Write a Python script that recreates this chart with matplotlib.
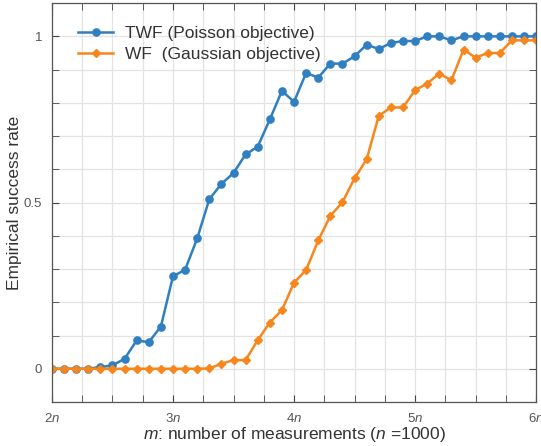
import numpy as np
import matplotlib
matplotlib.use('Agg')
import matplotlib.pyplot as plt
from matplotlib.ticker import MultipleLocator, FixedLocator

plt.rcParams['font.family'] = ['Liberation Sans', 'DejaVu Sans']
plt.rcParams['mathtext.fontset'] = 'custom'
plt.rcParams['mathtext.rm'] = 'Liberation Sans'
plt.rcParams['mathtext.it'] = 'Liberation Sans:italic'

# m / n, sampled every 0.1n from 2n to 6n
m_over_n = [2.0, 2.1, 2.2, 2.3, 2.4, 2.5, 2.6, 2.7, 2.8, 2.9,
            3.0, 3.1, 3.2, 3.3, 3.4, 3.5, 3.6, 3.7, 3.8, 3.9,
            4.0, 4.1, 4.2, 4.3, 4.4, 4.5, 4.6, 4.7, 4.8, 4.9,
            5.0, 5.1, 5.2, 5.3, 5.4, 5.5, 5.6, 5.7, 5.8, 5.9, 6.0]

twf_rate = [0, 0, 0, 0, 0.005, 0.01, 0.03, 0.085, 0.08, 0.127,
            0.278, 0.298, 0.392, 0.51, 0.556, 0.589, 0.645, 0.668, 0.75, 0.836,
            0.803, 0.89, 0.876, 0.918, 0.918, 0.94, 0.975, 0.962, 0.98, 0.986,
            0.986, 1.0, 1.0, 0.988, 1.0, 1.0, 1.0, 1.0, 1.0, 1.0, 1.0]

wf_rate = [0, 0, 0, 0, 0, 0, 0, 0, 0, 0,
           0, 0, 0, 0.001, 0.015, 0.026, 0.026, 0.086, 0.139, 0.176,
           0.259, 0.297, 0.386, 0.46, 0.501, 0.573, 0.63, 0.761, 0.786, 0.786,
           0.838, 0.858, 0.888, 0.868, 0.96, 0.936, 0.95, 0.95, 0.988, 0.988, 0.988]

xtick_vals = [2, 3, 4, 5, 6]
xtick_labels = ['2$n$', '3$n$', '4$n$', '5$n$', '6$n$']

blue = '#2F7FC1'
orange = '#F7861C'

fig = plt.figure(figsize=(5.41, 4.46), dpi=100)
ax = fig.add_axes([0.096, 0.0987, 0.895, 0.8943])

ax.plot(m_over_n, twf_rate, '-o', color=blue, lw=1.8, ms=5.2,
        label='TWF (Poisson objective)')
ax.plot(m_over_n, wf_rate, '-D', color=orange, lw=1.8, ms=4.5,
        label='WF  (Gaussian objective)')

ax.set_xlim(2, 6)
ax.set_ylim(-0.1, 1.1)
ax.xaxis.set_major_locator(FixedLocator(xtick_vals))
ax.set_xticklabels(xtick_labels)
ax.xaxis.set_minor_locator(MultipleLocator(0.25))
ax.yaxis.set_major_locator(FixedLocator([0, 0.5, 1]))
ax.set_yticklabels(['0', '0.5', '1'])
ax.yaxis.set_minor_locator(MultipleLocator(0.1))

ax.grid(True, which='both', color='#e3e3e3', lw=0.9)
ax.set_axisbelow(True)

ax.tick_params(which='both', direction='in', top=True, right=True,
               colors='#444444', labelcolor='#555555', labelsize=9.5)
ax.tick_params(which='major', length=5, pad=7)
ax.tick_params(which='minor', length=5)
for s in ax.spines.values():
    s.set_color('#555555')
    s.set_linewidth(0.9)

ax.set_xlabel('$m$: number of measurements ($n$ =1000)', fontsize=12.5,
              color='#333333', labelpad=0)
ax.set_ylabel('Empirical success rate', fontsize=12.5, color='#333333')
ax.yaxis.set_label_coords(-0.062, 0.5)

leg = ax.legend(loc='upper left', frameon=False, fontsize=12.5,
                handlelength=2.0, handletextpad=0.7, borderaxespad=0.9,
                labelspacing=0.35, labelcolor='#333333',
                bbox_to_anchor=(0.008, 1.0))

fig.savefig('out.png', dpi=100)
